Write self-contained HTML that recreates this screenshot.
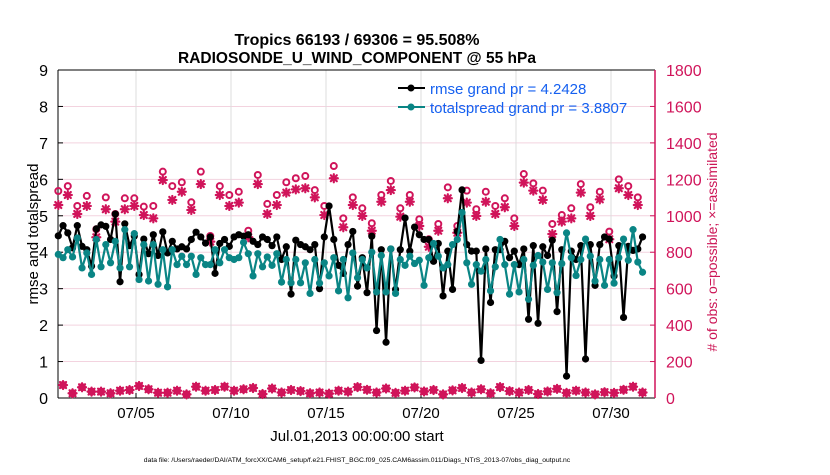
<!DOCTYPE html>
<html><head><meta charset="utf-8">
<style>
body{margin:0;background:#fff;}
svg text{font-family:"Liberation Sans",Arial,sans-serif;}
</style></head>
<body>
<svg id="chart" width="830" height="470" viewBox="0 0 830 470" xmlns="http://www.w3.org/2000/svg">
<rect width="830" height="470" fill="#fff"/>
<g id="grid"></g>
<g id="axes"></g>
<g id="series"></g>
<text x="357" y="45" text-anchor="middle" font-size="16" font-weight="bold">Tropics 66193 / 69306 = 95.508%</text>
<text x="357" y="63" text-anchor="middle" font-size="15.5" font-weight="bold">RADIOSONDE_U_WIND_COMPONENT @ 55 hPa</text>
<text transform="translate(38,234) rotate(-90)" text-anchor="middle" font-size="15">rmse and totalspread</text>
<text transform="translate(717,242) rotate(-90)" text-anchor="middle" font-size="14" fill="#cc1656"># of obs: o=possible; ×=assimilated</text>
<text x="357" y="441" text-anchor="middle" font-size="15">Jul.01,2013 00:00:00 start</text>
<text x="357" y="462" text-anchor="middle" font-size="6.8">data file: /Users/raeder/DAI/ATM_forcXX/CAM6_setup/f.e21.FHIST_BGC.f09_025.CAM6assim.011/Diags_NTrS_2013-07/obs_diag_output.nc</text>
<g>
<line x1="398" y1="88" x2="425" y2="88" stroke="#000" stroke-width="2"/>
<circle cx="411" cy="88" r="3.5" fill="#000"/>
<text x="430" y="94" font-size="15" fill="#1560f0">rmse grand pr = 4.2428</text>
<line x1="398" y1="107" x2="425" y2="107" stroke="#0a8585" stroke-width="2"/>
<circle cx="411" cy="107" r="3.5" fill="#0a8585"/>
<text x="430" y="113" font-size="15" fill="#1560f0">totalspread grand pr = 3.8807</text>
</g>
</svg>
<script>
const rmse=[4.45,4.73,4.53,4.12,4.73,4.16,4.07,3.62,4.64,4.75,4.71,4.35,5.05,3.19,4.78,4.18,4.44,3.39,4.36,3.96,4.48,3.91,4.56,3.98,4.3,4.09,4.15,4.09,4.35,4.55,4.42,4.25,
4.42,3.42,4.24,4.35,4.16,4.42,4.48,4.44,4.48,4.3,4.21,4.42,4.35,4.18,4.42,3.8,4.15,2.85,4.33,4.21,4.15,4.07,4.21,3.0,4.42,5.27,4.35,3.64,3.42,4.21,4.57,
3.07,3.85,2.89,4.44,1.85,4.07,1.53,4.09,2.98,4.07,4.94,4.03,4.69,4.48,4.35,4.35,3.75,4.24,2.8,4.03,2.98,4.57,5.71,4.21,4.03,4.03,1.03,4.09,2.62,4.07,4.07,
4.3,3.85,4.03,3.66,4.09,2.16,4.18,2.05,4.15,3.91,4.33,2.37,4.07,0.6,4.03,3.8,4.18,1.07,4.21,3.09,4.21,4.42,4.36,3.35,4.18,2.21,4.16,4.05,4.09,4.42];
const spread=[3.94,3.85,4.07,3.87,4.39,3.57,3.98,3.39,4.35,3.6,4.21,3.71,4.3,3.57,4.62,3.6,4.51,3.25,4.21,3.21,4.21,3.12,4.07,3.05,4.07,3.66,3.89,3.66,3.89,3.39,3.85,3.66,
3.66,4.07,3.71,4.07,3.85,3.8,3.85,4.27,3.96,3.35,3.96,3.6,3.87,3.64,3.96,3.18,3.8,3.16,3.8,3.16,3.71,2.87,3.8,3.15,3.71,3.35,3.85,2.94,3.8,2.75,3.98,
3.3,3.8,3.57,4.0,2.91,3.91,2.91,4.09,2.87,3.8,3.64,3.89,3.69,3.78,3.09,3.85,4.24,3.89,3.57,3.66,4.21,4.35,5.09,3.71,3.12,3.66,3.48,3.8,2.94,3.6,4.35,
3.66,2.85,3.66,2.91,3.8,2.71,3.64,3.91,3.73,2.98,3.71,2.89,3.69,4.53,3.85,3.36,3.8,4.36,3.89,3.21,3.8,3.09,3.8,3.15,3.85,4.36,3.78,4.62,3.73,3.45];
// obs counts at 00Z/12Z (even indices): possible and assimilated
const possibleHigh=[1136,1163,1054,1109,926,1101,1010,1096,1096,1050,1054,1242,1163,1184,1074,1242,
889,1163,1114,1132,918,1224,1065,1114,1184,1206,1218,1141,1054,1273,986,1101,
1041,959,1114,1191,1041,1114,981,871,955,1156,944,1138,1036,1132,1054,
1096,986,1229,1178,1138,955,1004,1041,1174,1047,1132,913,1200,1163,1101];
const assimHigh=[1059,1114,1010,1054,882,1036,968,1036,1054,1004,986,1196,1087,1132,1032,1174,
858,1114,1054,1072,882,1174,1010,1059,1127,1145,1151,1101,1004,1206,937,1059,
999,918,1077,1141,995,1077,944,830,918,1096,907,1072,999,1077,1010,
1047,944,1182,1138,1087,900,968,986,1127,999,1090,871,1151,1114,1059];
// obs counts at 06Z/18Z (odd indices)
const countLow=[71,26,59,35,35,26,40,44,66,48,29,29,40,20,62,40,44,62,40,48,55,22,52,30,44,38,26,30,24,40,35,
60,45,30,52,28,40,58,36,44,20,42,55,30,48,26,60,38,30,44,22,36,50,28,40,30,20,32,28,45,62,30];
const xTickLabels=["07/05","07/10","07/15","07/20","07/25","07/30"];
const xTickDays=[4,9,14,19,24,29];
const yTicks=[0,1,2,3,4,5,6,7,8,9];
const y2Ticks=[0,200,400,600,800,1000,1200,1400,1600,1800];

const L=58,R=655,T=70,B=398,PINK="#d0145a",TEAL="#0a8585";
const dayX=d=>60+d*19;
const idxX=i=>dayX(i*0.25)-1.7;
const yV=v=>B-(v/9)*(B-T);
const yC=c=>B-(c/1800)*(B-T);
const NS="http://www.w3.org/2000/svg";
function mk(tag,attrs,parent){const e=document.createElementNS(NS,tag);for(const k in attrs)e.setAttribute(k,attrs[k]);parent.appendChild(e);return e;}
const grid=document.getElementById('grid'),axes=document.getElementById('axes'),ser=document.getElementById('series');

y2Ticks.forEach((c,i)=>{
  if(i>0&&i<y2Ticks.length-1){const g=mk('line',{x1:L,x2:R,y1:yC(c),y2:yC(c),stroke:"#f3d3df","stroke-width":1},grid);
  
  }
  const t=mk('text',{x:R+11,y:yC(c)+6,"font-size":16,fill:PINK},axes);t.textContent=c;
  
  
  mk('line',{x1:R-5,x2:R,y1:yC(c),y2:yC(c),stroke:PINK},axes);
});
xTickDays.forEach((d,i)=>{
  const g=mk('line',{x1:dayX(d),x2:dayX(d),y1:T,y2:B,stroke:"#dcdcdc","stroke-width":1},grid);
  
  
  mk('line',{x1:dayX(d),x2:dayX(d),y1:B-5,y2:B,stroke:"#000"},axes);
  const t=mk('text',{x:dayX(d),y:B+20,"font-size":15,"text-anchor":"middle"},axes);t.textContent=xTickLabels[i];
  
  
});
yTicks.forEach(v=>{
  mk('line',{x1:L,x2:L+5,y1:yV(v),y2:yV(v),stroke:"#000"},axes);
  const t=mk('text',{x:L-10,y:yV(v)+6,"font-size":16,"text-anchor":"end"},axes);t.textContent=v;
  
  
});
mk('line',{x1:L,x2:L,y1:T,y2:B,stroke:"#000"},axes);
mk('line',{x1:L,x2:R,y1:B,y2:B,stroke:"#000"},axes);
mk('line',{x1:L,x2:R,y1:T,y2:T,stroke:"#000"},axes);
mk('line',{x1:R,x2:R,y1:T,y2:B,stroke:PINK,"stroke-width":1.5},axes);

function asterisk(x,y,parent){
  const g=mk('g',{stroke:PINK,"stroke-width":2.2,"stroke-linecap":"round"},parent);
  
  
  const s=4;
  mk('line',{x1:x-s,x2:x+s,y1:y,y2:y},g);
  mk('line',{x1:x,x2:x,y1:y-s,y2:y+s},g);
  mk('line',{x1:x-3,x2:x+3,y1:y-3,y2:y+3},g);
  mk('line',{x1:x-3,x2:x+3,y1:y+3,y2:y-3},g);
}
possibleHigh.forEach((c,k)=>{
  const x=idxX(2*k);
  const o=mk('circle',{cx:x,cy:yC(c),r:3,fill:"none",stroke:PINK,"stroke-width":2},ser);
  
  
  asterisk(x,yC(assimHigh[k]),ser);
});
countLow.forEach((c,k)=>{
  const x=idxX(2*k+1);
  const o=mk('circle',{cx:x,cy:yC(c),r:3,fill:"none",stroke:PINK,"stroke-width":2},ser);
  
  
  asterisk(x,yC(c),ser);
});

function series(vals,color,name){
  const p=mk('polyline',{points:vals.map((v,i)=>idxX(i)+","+yV(v)).join(" "),fill:"none",stroke:color,"stroke-width":2.2,"stroke-linejoin":"round"},ser);
  
  
  vals.forEach((v,i)=>{
    const c=mk('circle',{cx:idxX(i),cy:yV(v),r:3.6,fill:color},ser);
    
    
  });
}
series(rmse,"#000","rmse");
series(spread,TEAL,"totalspread");
</script>
</body></html>
